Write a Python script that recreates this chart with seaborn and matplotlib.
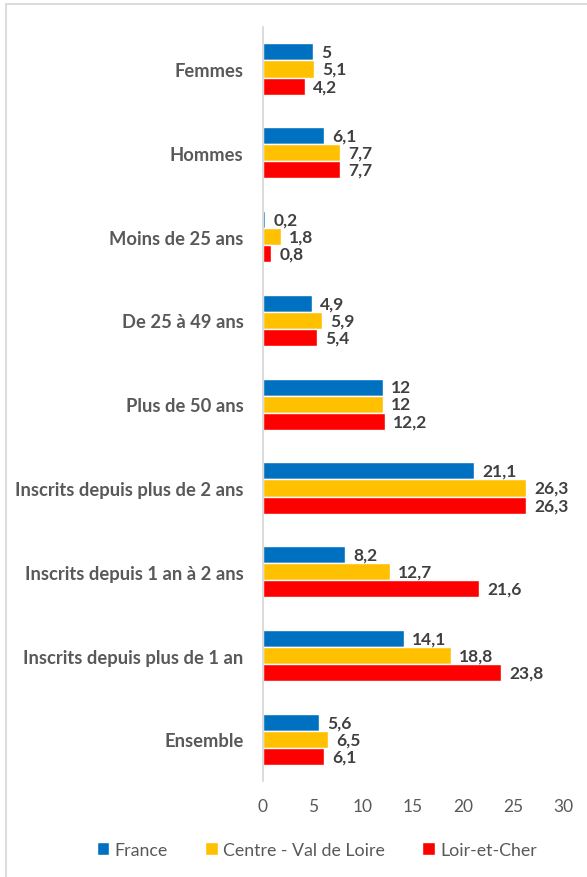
import matplotlib
matplotlib.use("Agg")
import matplotlib.pyplot as plt
from matplotlib.patches import Rectangle
import seaborn as sns
import pandas as pd

categories = [
    "Femmes",
    "Hommes",
    "Moins de 25 ans",
    "De 25 à 49 ans",
    "Plus de 50 ans",
    "Inscrits depuis plus de 2 ans",
    "Inscrits depuis 1 an à 2 ans",
    "Inscrits depuis plus de 1 an",
    "Ensemble",
]
series = ["France", "Centre - Val de Loire", "Loir-et-Cher"]
france = [5, 6.1, 0.2, 4.9, 12, 21.1, 8.2, 14.1, 5.6]
centre = [5.1, 7.7, 1.8, 5.9, 12, 26.3, 12.7, 18.8, 6.5]
loir_et_cher = [4.2, 7.7, 0.8, 5.4, 12.2, 26.3, 21.6, 23.8, 6.1]
x_ticks = [0, 5, 10, 15, 20, 25, 30]

colors = ["#0070C0", "#FFC000", "#FF0000"]

rows = []
for name, vals in zip(series, [france, centre, loir_et_cher]):
    for cat, v in zip(categories, vals):
        rows.append({"categorie": cat, "serie": name, "valeur": v})
df = pd.DataFrame(rows)

sns.set_theme(style="white")
plt.rcParams["font.family"] = ["Lato", "DejaVu Sans"]

fig = plt.figure(figsize=(5.87, 8.78), dpi=100)
ax = fig.add_axes([0.448, 0.109, 0.511, 0.859])

sns.barplot(
    data=df, y="categorie", x="valeur", hue="serie",
    order=categories, hue_order=series, palette=colors,
    orient="h", width=0.61, saturation=1, ax=ax, legend=True,
)

# value labels at the end of each bar
for container in ax.containers:
    labels = [f"{v:g}".replace(".", ",") for v in container.datavalues]
    ax.bar_label(container, labels=labels, padding=6, fontsize=12.5,
                 fontweight="bold", color="#404040")

ax.set_xlim(0, 30)
ax.set_xticks(x_ticks)
ax.set_xticklabels([str(t) for t in x_ticks], fontsize=12.5, color="#595959")
ax.tick_params(axis="x", length=0, pad=12)
ax.tick_params(axis="y", length=0, pad=14)
for lbl in ax.get_yticklabels():
    lbl.set_fontweight("bold")
    lbl.set_fontsize(13.2)
    lbl.set_color("#595959")
ax.set_xlabel("")
ax.set_ylabel("")
ax.grid(False)
for side in ["top", "right", "bottom"]:
    ax.spines[side].set_visible(False)
ax.spines["left"].set_color("#D9D9D9")
ax.spines["left"].set_linewidth(1.3)

handles, labs = ax.get_legend_handles_labels()
ax.get_legend().remove()
fig.legend(handles, labs, loc="center", bbox_to_anchor=(0.54, 0.031),
           ncol=3, frameon=False, fontsize=12.8, labelcolor="#595959",
           handlelength=0.7, handleheight=0.7, handletextpad=0.3,
           columnspacing=2.1)

# chart area border
fig.patches.append(Rectangle((6 / 587, -0.05), 1.2, 1 - 5 / 878 + 0.05,
                             transform=fig.transFigure, fill=False,
                             edgecolor="#D9D9D9", linewidth=1.3))

fig.savefig("out.png", dpi=100)
